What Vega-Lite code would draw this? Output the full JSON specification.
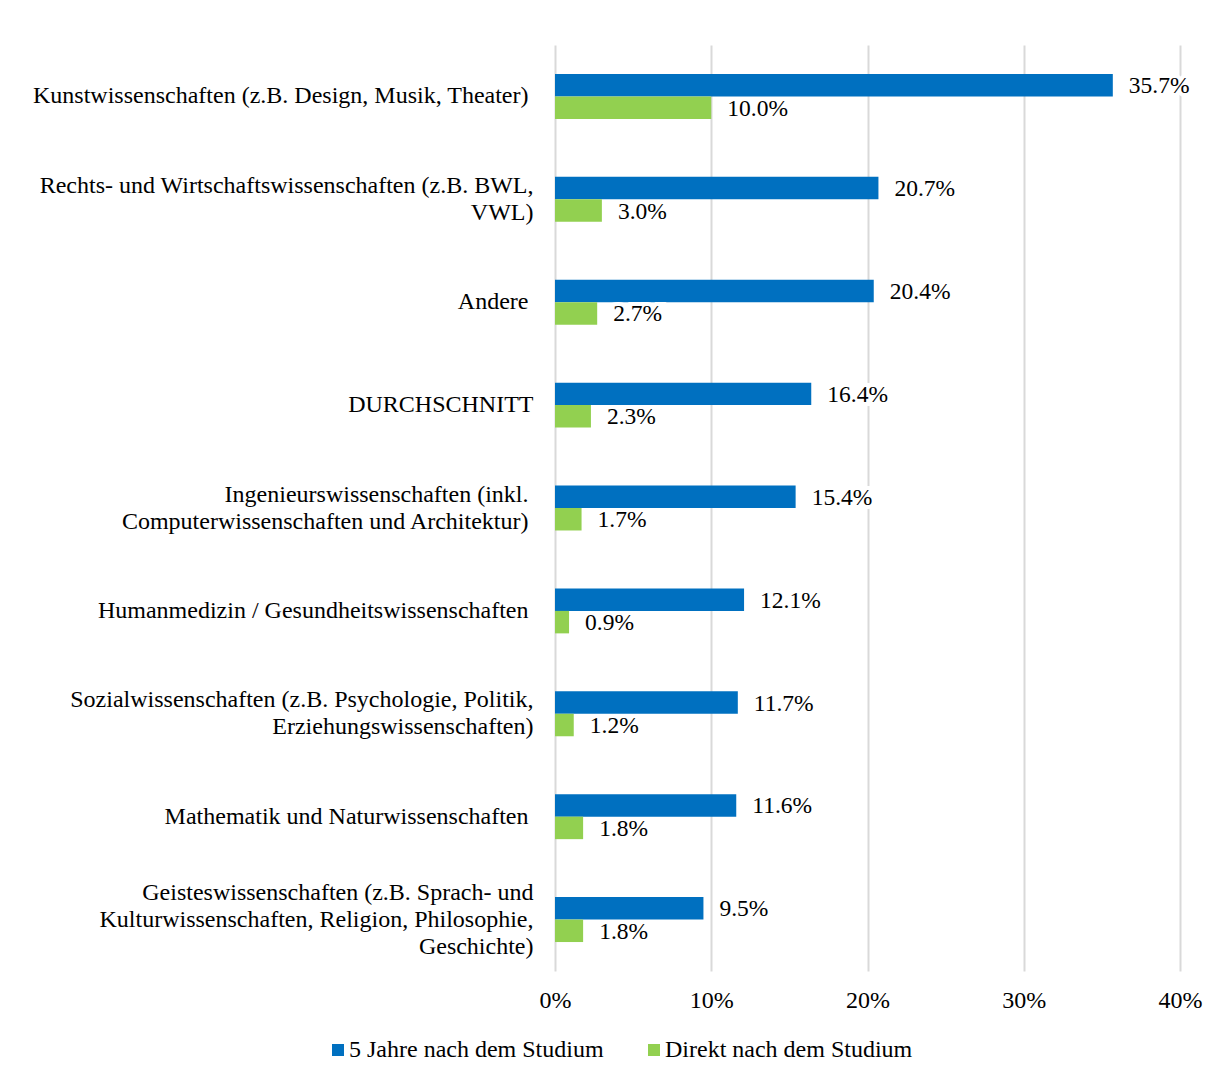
{
  "$schema": "https://vega.github.io/schema/vega-lite/v6.json",
  "autosize": {"type": "none"},
  "padding": {"left": 555, "top": 45, "right": 29, "bottom": 97},
  "width": 625,
  "height": 926,
  "background": "white",
  "config": {
    "font": "Liberation Serif",
    "view": {"stroke": null},
    "axis": {"labelFont": "Liberation Serif", "labelColor": "#000000", "labelFontSize": 24}
  },
  "data": {
    "values": [
      {"Fach": "Kunstwissenschaften (z.B. Design, Musik, Theater)", "Zeitpunkt": "5 Jahre nach dem Studium", "Anteil": 0.357},
      {"Fach": "Kunstwissenschaften (z.B. Design, Musik, Theater)", "Zeitpunkt": "Direkt nach dem Studium", "Anteil": 0.100},
      {"Fach": "Rechts- und Wirtschaftswissenschaften (z.B. BWL,|VWL)", "Zeitpunkt": "5 Jahre nach dem Studium", "Anteil": 0.207},
      {"Fach": "Rechts- und Wirtschaftswissenschaften (z.B. BWL,|VWL)", "Zeitpunkt": "Direkt nach dem Studium", "Anteil": 0.030},
      {"Fach": "Andere", "Zeitpunkt": "5 Jahre nach dem Studium", "Anteil": 0.204},
      {"Fach": "Andere", "Zeitpunkt": "Direkt nach dem Studium", "Anteil": 0.027},
      {"Fach": "DURCHSCHNITT", "Zeitpunkt": "5 Jahre nach dem Studium", "Anteil": 0.164},
      {"Fach": "DURCHSCHNITT", "Zeitpunkt": "Direkt nach dem Studium", "Anteil": 0.023},
      {"Fach": "Ingenieurswissenschaften (inkl.|Computerwissenschaften und Architektur)", "Zeitpunkt": "5 Jahre nach dem Studium", "Anteil": 0.154},
      {"Fach": "Ingenieurswissenschaften (inkl.|Computerwissenschaften und Architektur)", "Zeitpunkt": "Direkt nach dem Studium", "Anteil": 0.017},
      {"Fach": "Humanmedizin / Gesundheitswissenschaften", "Zeitpunkt": "5 Jahre nach dem Studium", "Anteil": 0.121},
      {"Fach": "Humanmedizin / Gesundheitswissenschaften", "Zeitpunkt": "Direkt nach dem Studium", "Anteil": 0.009},
      {"Fach": "Sozialwissenschaften (z.B. Psychologie, Politik,|Erziehungswissenschaften)", "Zeitpunkt": "5 Jahre nach dem Studium", "Anteil": 0.117},
      {"Fach": "Sozialwissenschaften (z.B. Psychologie, Politik,|Erziehungswissenschaften)", "Zeitpunkt": "Direkt nach dem Studium", "Anteil": 0.012},
      {"Fach": "Mathematik und Naturwissenschaften", "Zeitpunkt": "5 Jahre nach dem Studium", "Anteil": 0.116},
      {"Fach": "Mathematik und Naturwissenschaften", "Zeitpunkt": "Direkt nach dem Studium", "Anteil": 0.018},
      {"Fach": "Geisteswissenschaften (z.B. Sprach- und|Kulturwissenschaften, Religion, Philosophie,|Geschichte)", "Zeitpunkt": "5 Jahre nach dem Studium", "Anteil": 0.095},
      {"Fach": "Geisteswissenschaften (z.B. Sprach- und|Kulturwissenschaften, Religion, Philosophie,|Geschichte)", "Zeitpunkt": "Direkt nach dem Studium", "Anteil": 0.018}
    ]
  },
  "encoding": {
    "y": {
      "field": "Fach",
      "type": "nominal",
      "sort": null,
      "scale": {"paddingInner": 0.563, "paddingOuter": 0.2815},
      "axis": {
        "title": null,
        "domain": false,
        "ticks": false,
        "grid": false,
        "labelPadding": {"expr": "(indexof(datum.label, ',|') >= 0 || datum.label == 'DURCHSCHNITT') ? 22 : 27"},
        "labelLimit": 600,
        "labelLineHeight": 27,
        "labelExpr": "split(datum.label, '|')",
        "labelOffset": {"expr": "-(length(split(datum.label, '|')) - 1) * 13.5"}
      }
    },
    "yOffset": {
      "field": "Zeitpunkt",
      "type": "nominal",
      "sort": ["5 Jahre nach dem Studium", "Direkt nach dem Studium"],
      "scale": {"paddingInner": 0, "paddingOuter": 0}
    },
    "x": {
      "field": "Anteil",
      "type": "quantitative",
      "scale": {"domain": [0, 0.4], "nice": false},
      "axis": {
        "title": null,
        "values": [0, 0.1, 0.2, 0.3, 0.4],
        "format": ".0%",
        "domain": false,
        "ticks": false,
        "grid": true,
        "gridColor": "#d9d9d9",
        "gridWidth": 2,
        "labelFlush": false,
        "labelPadding": 17
      }
    }
  },
  "layer": [
    {
      "mark": {"type": "bar"},
      "encoding": {
        "color": {
          "field": "Zeitpunkt",
          "type": "nominal",
          "scale": {
            "domain": ["5 Jahre nach dem Studium", "Direkt nach dem Studium"],
            "range": ["#0070C0", "#92D050"]
          },
          "legend": {
            "title": null,
            "orient": "none",
            "direction": "horizontal",
            "legendX": -229,
            "legendY": 993,
            "symbolType": "square",
            "symbolSize": 144,
            "symbolStrokeWidth": 0,
            "symbolOpacity": 1,
            "labelFont": "Liberation Serif",
            "labelFontSize": 24,
            "labelColor": "#000000",
            "labelOffset": -1,
            "columnPadding": 38,
            "labelLimit": 400
          }
        }
      }
    },
    {
      "mark": {"type": "text", "align": "left", "baseline": "middle", "dx": 16, "dy": 1, "fontSize": 23.5, "font": "Liberation Serif", "stroke": "white", "strokeWidth": 8, "fill": "white"},
      "encoding": {"text": {"field": "Anteil", "type": "quantitative", "format": ".1%"}}
    },
    {
      "mark": {"type": "text", "align": "left", "baseline": "middle", "dx": 16, "dy": 1, "fontSize": 23.5, "font": "Liberation Serif", "color": "#000000"},
      "encoding": {"text": {"field": "Anteil", "type": "quantitative", "format": ".1%"}}
    }
  ]
}
